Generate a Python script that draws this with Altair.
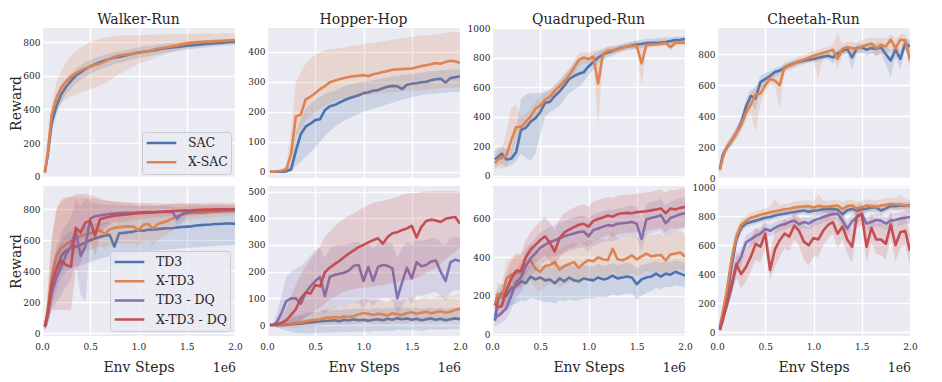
import altair as alt
import pandas as pd

# ---------------- data ----------------
X = [0.03, 0.06, 0.10, 0.15, 0.20, 0.25, 0.30, 0.35, 0.40, 0.45,
     0.50, 0.55, 0.60, 0.65, 0.70, 0.75, 0.80, 0.85, 0.90, 0.95,
     1.00, 1.05, 1.10, 1.15, 1.20, 1.25, 1.30, 1.35, 1.40, 1.45,
     1.50, 1.55, 1.60, 1.65, 1.70, 1.75, 1.80, 1.85, 1.90, 1.95,
     2.00]
X_TICKS = [0.0, 0.5, 1.0, 1.5, 2.0]

TITLES = ["Walker-Run", "Hopper-Hop", "Quadruped-Run", "Cheetah-Run"]
TOP_NAMES = ["SAC", "X-SAC"]
TOP_COLORS = ["#4C72B0", "#DD8452"]
BOT_NAMES = ["TD3", "X-TD3", "TD3 - DQ", "X-TD3 - DQ"]
BOT_COLORS = ["#4C72B0", "#DD8452", "#8172B3", "#C44E52"]

# y domains / ticks per panel
TOP_DOMAINS = [[-6, 883], [-21, 479], [-15, 1000], [0, 970]]
TOP_TICKS = [[0, 200, 400, 600, 800], [0, 100, 200, 300, 400],
             [0, 200, 400, 600, 800, 1000], [0, 200, 400, 600, 800]]
BOT_DOMAINS = [[-17, 950], [-41, 521], [-10, 772], [-26, 1009]]
BOT_TICKS = [[0, 200, 400, 600, 800], [0, 100, 200, 300, 400, 500],
             [0, 200, 400, 600], [0, 200, 400, 600, 800, 1000]]

# ---- Walker-Run (top) ----
WALKER_SAC = [30,130,320,420,490,535,570,600,620,640, 655,668,680,690,700,708,712,718,725,732,
              738,742,745,750,755,760,764,767,770,774, 778,780,783,786,789,790,793,795,797,800, 800]
WALKER_SAC_LO = [22,100,270,370,440,490,525,555,575,595, 612,625,638,648,660,668,675,682,690,698,
                 705,710,715,720,727,733,738,742,746,750, 755,758,762,765,768,771,774,777,779,781, 782]
WALKER_SAC_HI = [40,160,370,470,545,585,615,640,662,680, 695,705,715,725,732,740,745,750,756,762,
                 768,772,776,780,784,788,792,795,798,801, 804,806,808,810,812,814,815,816,817,818, 818]
WALKER_XSAC = [25,150,370,470,530,565,595,615,630,645, 655,665,672,685,700,712,720,725,728,735,
               738,740,745,752,760,765,770,775,780,786, 792,795,798,800,802,803,805,806,808,810, 812]
WALKER_XSAC_LO = [15,110,310,400,440,460,475,490,500,510, 520,530,540,555,570,590,610,625,640,655,
                  670,680,690,700,712,722,732,742,750,758, 765,770,774,778,781,784,787,790,792,794, 796]
WALKER_XSAC_HI = [35,190,440,560,630,680,720,745,765,785, 800,810,818,825,830,835,838,840,840,840,
                  840,842,843,844,845,845,846,846,847,848, 848,849,849,850,850,850,851,851,852,852, 852]

# ---- Hopper-Hop (top) ----
HOPPER_SAC = [0,0,0,0,1,8,70,125,150,160, 172,175,205,218,222,230,238,245,250,255,
              262,265,270,272,278,283,286,285,275,290, 293,295,298,300,305,308,310,297,312,315, 318]
HOPPER_SAC_LO = [0,0,0,0,0,0,20,35,50,65, 80,100,120,135,150,160,170,178,185,192,
                 200,205,210,215,220,225,230,235,240,244, 248,252,255,258,260,261,262,263,265,266, 268]
HOPPER_SAC_HI = [0,0,0,0,3,30,130,180,210,225, 240,250,260,265,270,278,285,290,295,298,
                 300,302,305,308,310,314,318,320,322,324, 326,328,330,332,335,336,338,339,340,341, 342]
HOPPER_XSAC = [0,0,1,3,8,60,185,190,240,250, 262,275,285,298,303,308,312,316,318,320,
               322,318,325,328,332,336,340,341,342,343, 344,348,352,355,358,362,360,366,370,368, 362]
HOPPER_XSAC_LO = [0,0,0,0,0,15,120,140,170,185, 200,210,220,228,235,240,245,248,250,252,
                  255,256,258,260,262,264,265,266,268,269, 270,271,272,273,275,276,278,279,280,281, 282]
HOPPER_XSAC_HI = [0,0,2,8,20,140,300,330,360,375, 390,398,405,408,410,412,415,418,420,422,
                  425,427,430,432,435,437,440,442,445,447, 450,452,455,455,455,458,460,462,465,465, 465]

# ---- Quadruped-Run (top) ----
QUAD_SAC = [110,125,150,110,115,160,310,325,365,390, 430,495,500,540,570,610,655,675,690,700,
            740,770,800,820,835,845,858,868,875,882, 888,892,898,900,900,902,905,912,918,920, 925]
QUAD_SAC_LO = [60,70,80,60,70,100,150,120,100,150, 280,400,430,450,470,520,560,580,600,640,
               680,720,760,785,800,815,830,840,850,855, 860,865,870,875,880,882,885,890,895,898, 900]
QUAD_SAC_HI = [170,190,200,180,190,300,520,550,560,560, 560,570,580,610,640,680,720,760,790,795,
               800,820,840,855,870,875,880,890,900,908, 915,920,925,928,930,932,935,938,940,942, 945]
QUAD_XSAC = [85,110,120,140,240,330,330,365,400,455, 475,515,535,575,605,640,680,730,785,800,
             790,805,625,825,845,850,855,865,875,878, 880,760,885,888,890,893,898,870,900,902, 900]
QUAD_XSAC_LO = [40,60,50,60,120,250,280,330,360,400, 420,470,500,540,570,600,640,680,740,760,
                760,775,330,790,815,825,835,845,855,860, 865,610,865,870,872,875,880,850,880,882, 880]
QUAD_XSAC_HI = [140,170,180,300,460,480,400,420,450,500, 540,560,580,620,650,690,730,780,830,840,
                830,845,850,860,875,880,885,890,900,905, 910,905,910,912,915,918,920,905,922,925, 925]

# ---- Cheetah-Run (top) ----
CHEETAH_SAC = [60,150,195,240,290,355,460,530,515,620, 640,660,685,695,712,730,742,752,758,765,
               770,778,785,790,780,805,820,835,780,840, 845,830,840,835,845,800,760,830,770,870, 850]
CHEETAH_SAC_LO = [45,120,170,210,255,315,410,480,440,580, 600,630,655,670,690,710,720,735,740,745,
                  750,755,765,770,740,780,790,805,700,810, 815,790,800,790,800,740,650,790,700,835, 800]
CHEETAH_SAC_HI = [75,180,220,270,325,395,510,570,580,660, 680,690,710,720,735,750,762,770,776,782,
                  790,798,805,810,810,830,845,860,830,865, 870,860,870,870,880,850,830,870,830,905, 890]
CHEETAH_XSAC = [50,130,200,240,290,340,420,475,540,545, 600,640,630,600,720,725,740,755,765,778,
                790,800,810,818,830,770,835,845,840,835, 850,860,870,840,860,850,895,840,895,890, 760]
CHEETAH_XSAC_LO = [35,100,170,210,250,300,370,420,300,480, 560,600,590,450,690,695,710,725,735,748,
                   760,640,780,790,800,700,800,810,780,800, 810,820,830,780,810,790,850,760,850,840, 700]
CHEETAH_XSAC_HI = [65,160,230,270,330,380,470,530,600,600, 640,680,670,690,750,755,770,785,795,808,
                   820,830,840,848,860,940,870,880,880,875, 890,900,910,900,910,900,930,900,930,930, 850]

# ---- Walker-Run (bottom) ----
WALKER_TD3 = [50,130,300,420,500,535,548,560,570,585, 600,612,622,630,635,560,645,648,652,656,
              665,662,668,668,672,675,678,678,683,686, 688,690,695,698,700,702,705,705,708,708, 706]
WALKER_TD3_LO = [25,60,170,280,360,400,420,430,440,450, 460,470,480,490,495,430,505,510,515,520,
                 525,528,530,532,535,538,540,542,545,548, 550,552,555,557,560,562,565,566,568,570, 570]
WALKER_TD3_HI = [80,200,420,530,600,640,660,670,680,690, 700,705,710,715,720,700,725,728,732,735,
                 740,740,742,743,745,748,750,752,755,758, 760,762,765,768,770,772,775,776,778,780, 780]
WALKER_XTD3 = [45,150,360,500,550,575,595,615,628,638, 645,655,665,640,670,680,685,688,690,688,
               665,700,705,675,705,715,725,740,755,765, 775,776,778,778,780,782,785,786,788,790, 790]
WALKER_XTD3_LO = [20,60,200,350,400,450,500,510,520,530, 540,550,560,545,570,575,580,580,580,580,
                  560,590,595,570,600,620,640,665,690,710, 730,735,740,742,745,748,750,752,755,758, 760]
WALKER_XTD3_HI = [70,300,600,800,870,880,880,880,880,875, 870,865,860,855,850,848,845,842,840,835,
                  820,830,830,820,825,830,832,835,838,840, 840,840,840,840,840,842,842,842,842,842, 842]
WALKER_TD3DQ = [40,120,260,360,430,510,560,660,500,560, 740,755,760,765,770,772,775,776,778,778,
                780,780,782,780,782,783,785,783,740,770, 780,786,788,790,792,792,793,794,795,795, 796]
WALKER_TD3DQ_LO = [20,60,150,200,250,300,350,450,250,200, 600,650,680,700,715,720,725,730,735,740,
                   742,745,748,748,750,752,755,755,700,720, 755,760,762,765,768,770,772,774,775,776, 777]
WALKER_TD3DQ_HI = [60,200,400,550,650,700,750,860,820,870, 850,840,830,830,828,826,825,824,823,822,
                   822,822,822,822,822,822,822,822,810,815, 822,822,822,822,822,822,822,822,822,822, 822]
WALKER_XTD3DQ = [45,130,320,410,470,440,430,680,650,715, 725,630,735,745,752,758,762,765,768,772,
                 774,776,778,780,782,784,786,788,790,791, 792,793,795,797,798,798,799,800,800,800, 800]
WALKER_XTD3DQ_LO = [20,60,150,150,150,150,150,400,450,550, 600,500,620,680,700,710,715,720,725,730,
                    735,738,740,742,745,747,750,752,755,757, 760,762,764,766,768,770,772,773,774,775, 776]
WALKER_XTD3DQ_HI = [70,250,600,800,850,870,880,900,900,900, 890,880,870,860,855,850,848,846,844,842,
                    840,840,840,838,838,836,836,835,835,835, 834,834,834,833,833,833,832,832,832,831, 830]

# ---- Hopper-Hop (bottom) ----
HOPPER_TD3 = [0,0,0,0,1,2,4,5,8,10, 12,14,15,16,18,14,20,17,22,18,
              20,16,20,22,18,24,20,26,22,25, 20,24,18,22,25,20,24,18,22,25, 22]
HOPPER_TD3_LO = [-2,-5,-10,-15,-20,-25,-30,-30,-32,-32, -30,-30,-28,-28,-26,-28,-25,-26,-24,-25,
                 -24,-25,-22,-22,-24,-20,-22,-18,-20,-18, -20,-18,-22,-18,-16,-18,-16,-18,-16,-15, -16]
HOPPER_TD3_HI = [2,5,10,15,20,28,35,40,45,48, 50,52,55,55,58,55,60,58,62,60,
                 62,58,62,64,60,66,62,68,64,66, 62,66,60,64,66,62,66,60,64,66, 64]
HOPPER_XTD3 = [0,0,0,1,3,5,8,10,14,18, 20,22,26,28,30,28,32,30,34,40,
               45,42,38,42,40,36,44,40,38,45, 48,42,46,50,44,48,52,46,50,56, 62]
HOPPER_XTD3_LO = [-1,-3,-5,-8,-10,-10,-10,-8,-6,-5, -4,-2,0,2,3,2,4,3,5,8,
                  10,8,6,8,6,4,10,8,6,10, 12,8,10,14,10,12,15,10,14,18, 22]
HOPPER_XTD3_HI = [1,3,6,10,18,22,28,32,38,45, 50,55,60,65,70,68,75,72,80,90,
                  100,95,88,95,92,85,98,92,88,100, 105,95,100,108,98,105,110,100,108,112, 118]
HOPPER_TD3DQ = [0,0,10,45,90,100,100,80,120,145, 165,180,108,180,188,192,196,205,222,225,
                165,218,165,218,225,222,212,100,160,215, 175,235,220,225,238,242,200,165,235,245, 240]
HOPPER_TD3DQ_LO = [0,0,-10,-10,0,5,10,15,30,40, 50,55,40,60,65,70,72,75,80,85,
                   60,90,70,95,100,100,95,40,70,100, 80,110,110,115,120,125,110,90,120,130, 130]
HOPPER_TD3DQ_HI = [0,5,40,110,180,200,210,220,240,260, 280,290,250,290,295,300,300,305,310,310,
                   290,305,290,305,310,310,305,250,290,310, 300,320,315,320,325,325,310,300,325,330, 330]
HOPPER_XTD3DQ = [0,0,2,8,18,38,60,100,122,118, 150,145,198,215,228,240,255,268,280,292,
                 300,310,318,325,305,330,344,348,356,362, 372,328,368,390,395,392,386,398,402,405, 380]
HOPPER_XTD3DQ_LO = [0,-2,-5,-5,-5,0,5,15,30,40, 55,65,80,95,105,115,125,130,135,138,
                    140,142,145,148,150,155,158,160,165,168, 170,175,185,195,205,215,230,245,260,275, 290]
HOPPER_XTD3DQ_HI = [0,3,10,30,60,110,150,190,220,245, 270,295,330,350,370,385,400,410,420,430,
                    440,450,458,462,465,470,475,480,488,492, 495,495,500,500,502,502,502,502,502,502, 500]

# ---- Quadruped-Run (bottom) ----
QUAD_TD3 = [70,180,215,200,240,250,275,265,300,285, 295,280,285,265,290,275,295,280,275,290,
            285,280,295,285,290,305,290,295,300,295, 260,285,295,300,315,300,315,310,325,315, 305]
QUAD_TD3_LO = [40,120,150,130,150,160,175,170,190,180, 175,165,170,160,175,170,180,175,175,185,
               185,185,195,190,195,205,200,205,210,210, 180,200,215,225,240,235,245,245,255,250, 245]
QUAD_TD3_HI = [110,230,260,260,310,320,340,330,360,350, 360,350,355,340,360,350,365,355,350,360,
               355,350,365,355,360,370,360,365,370,365, 340,360,365,370,380,370,380,375,385,380, 370]
QUAD_XTD3 = [150,210,190,290,310,320,320,360,385,340, 325,355,360,375,335,355,365,375,345,370,
             385,380,400,390,385,445,390,385,395,410, 390,405,420,405,410,412,385,415,420,425, 405]
QUAD_XTD3_LO = [110,150,130,200,220,230,240,260,280,240, 220,250,260,270,240,260,270,280,260,280,
                290,285,300,295,290,330,300,295,305,320, 300,315,330,320,325,328,305,330,335,340, 325]
QUAD_XTD3_HI = [200,270,260,370,400,410,410,450,470,440, 430,450,460,470,440,460,470,480,460,480,
                490,485,500,495,490,540,500,495,505,515, 500,515,530,515,520,525,500,530,535,540, 520]
QUAD_TD3DQ = [80,95,110,135,200,270,295,355,395,420, 450,465,480,488,500,510,518,525,532,535,
              510,542,550,560,568,565,575,578,580,585, 575,495,598,605,612,620,578,605,615,625, 630]
QUAD_TD3DQ_LO = [40,50,60,80,130,190,220,270,310,330, 360,380,395,405,415,425,435,440,448,452,
                 430,460,470,480,485,485,495,500,505,510, 500,430,520,525,532,540,500,525,535,545, 550]
QUAD_TD3DQ_HI = [120,140,170,210,270,340,370,430,470,500, 530,545,560,570,580,590,600,608,615,620,
                 600,625,632,640,648,648,655,660,665,670, 660,600,680,688,695,705,670,690,700,710, 715]
QUAD_XTD3DQ = [160,140,145,230,290,330,330,400,440,465, 490,510,475,430,500,530,545,558,570,575,
               560,590,600,608,618,612,625,630,632,630, 636,638,640,645,650,655,630,655,650,658, 662]
QUAD_XTD3DQ_LO = [110,90,95,150,200,240,250,310,350,370, 390,410,380,340,400,430,445,455,465,470,
                  455,485,495,505,515,510,520,525,528,528, 532,535,538,542,548,552,530,552,548,555, 560]
QUAD_XTD3DQ_HI = [210,200,210,320,380,420,420,490,530,560, 590,610,580,540,600,630,645,658,670,675,
                  665,690,698,705,715,710,720,725,728,728, 732,735,738,742,748,752,735,752,750,758, 762]

# ---- Cheetah-Run (bottom) ----
CHEETAH_TD3 = [30,110,230,450,640,720,750,760,770,780, 790,795,805,812,818,825,830,835,840,832,
               838,842,848,850,852,845,815,842,850,840, 848,852,860,862,840,855,872,870,875,872, 875]
CHEETAH_TD3_LO = [15,80,190,400,600,690,725,735,745,755, 765,770,780,788,794,800,805,810,815,805,
                  812,817,822,825,827,818,780,815,825,810, 820,825,835,837,810,828,848,845,850,847, 850]
CHEETAH_TD3_HI = [45,140,270,500,680,750,775,785,795,805, 815,820,830,836,842,850,855,860,865,858,
                  864,868,874,876,878,872,850,870,876,868, 876,880,886,888,870,882,897,895,900,897, 900]
CHEETAH_XTD3 = [40,140,280,500,660,740,770,790,800,810, 820,828,835,842,848,852,860,865,868,870,
                860,872,868,865,870,874,850,870,875,852, 860,875,870,866,875,880,885,882,880,876, 868]
CHEETAH_XTD3_LO = [20,100,230,440,610,700,735,755,765,775, 785,792,800,805,810,815,820,826,828,830,
                   815,832,828,825,830,834,805,830,835,805, 815,835,830,825,835,840,845,842,840,835, 825]
CHEETAH_XTD3_HI = [60,180,330,560,710,780,805,825,835,845, 855,865,920,878,885,890,900,905,908,910,
                   905,950,910,905,912,915,900,912,918,900, 908,918,912,910,918,925,930,925,950,918, 912]
CHEETAH_TD3DQ = [20,100,180,310,460,520,620,640,665,680, 712,700,720,738,745,760,770,745,760,750,
                 770,782,795,805,815,818,770,715,765,795, 815,750,760,775,770,750,770,775,785,790, 795]
CHEETAH_TD3DQ_LO = [10,70,140,260,400,460,570,590,615,635, 670,660,680,700,708,722,732,705,720,710,
                    730,742,755,765,775,778,725,665,720,752, 772,705,715,730,725,705,725,730,740,745, 750]
CHEETAH_TD3DQ_HI = [30,130,220,360,520,580,670,690,715,725, 755,740,760,776,782,798,808,785,800,790,
                    810,822,835,845,855,858,815,765,810,838, 858,795,805,820,815,795,815,820,830,835, 840]
CHEETAH_XTD3DQ = [15,80,200,320,470,400,450,520,610,590, 680,430,570,635,680,660,735,700,625,600,
                  650,640,700,740,760,680,730,640,590,800, 815,590,720,640,640,610,745,600,690,700, 560]
CHEETAH_XTD3DQ_LO = [5,50,150,250,380,300,350,420,500,480, 580,360,450,520,580,560,640,600,500,460,
                     520,520,600,650,680,580,640,540,480,720, 740,480,620,540,530,500,660,490,580,600, 460]
CHEETAH_XTD3DQ_HI = [30,120,260,400,560,500,560,620,720,700, 780,540,700,740,780,760,830,800,740,720,
                     770,760,800,830,840,780,820,740,700,880, 890,720,820,750,760,720,840,720,800,810, 680]

TOP_SERIES = [
    [(WALKER_SAC, WALKER_SAC_LO, WALKER_SAC_HI), (WALKER_XSAC, WALKER_XSAC_LO, WALKER_XSAC_HI)],
    [(HOPPER_SAC, HOPPER_SAC_LO, HOPPER_SAC_HI), (HOPPER_XSAC, HOPPER_XSAC_LO, HOPPER_XSAC_HI)],
    [(QUAD_SAC, QUAD_SAC_LO, QUAD_SAC_HI), (QUAD_XSAC, QUAD_XSAC_LO, QUAD_XSAC_HI)],
    [(CHEETAH_SAC, CHEETAH_SAC_LO, CHEETAH_SAC_HI), (CHEETAH_XSAC, CHEETAH_XSAC_LO, CHEETAH_XSAC_HI)],
]
BOT_SERIES = [
    [(WALKER_TD3, WALKER_TD3_LO, WALKER_TD3_HI), (WALKER_XTD3, WALKER_XTD3_LO, WALKER_XTD3_HI),
     (WALKER_TD3DQ, WALKER_TD3DQ_LO, WALKER_TD3DQ_HI), (WALKER_XTD3DQ, WALKER_XTD3DQ_LO, WALKER_XTD3DQ_HI)],
    [(HOPPER_TD3, HOPPER_TD3_LO, HOPPER_TD3_HI), (HOPPER_XTD3, HOPPER_XTD3_LO, HOPPER_XTD3_HI),
     (HOPPER_TD3DQ, HOPPER_TD3DQ_LO, HOPPER_TD3DQ_HI), (HOPPER_XTD3DQ, HOPPER_XTD3DQ_LO, HOPPER_XTD3DQ_HI)],
    [(QUAD_TD3, QUAD_TD3_LO, QUAD_TD3_HI), (QUAD_XTD3, QUAD_XTD3_LO, QUAD_XTD3_HI),
     (QUAD_TD3DQ, QUAD_TD3DQ_LO, QUAD_TD3DQ_HI), (QUAD_XTD3DQ, QUAD_XTD3DQ_LO, QUAD_XTD3DQ_HI)],
    [(CHEETAH_TD3, CHEETAH_TD3_LO, CHEETAH_TD3_HI), (CHEETAH_XTD3, CHEETAH_XTD3_LO, CHEETAH_XTD3_HI),
     (CHEETAH_TD3DQ, CHEETAH_TD3DQ_LO, CHEETAH_TD3DQ_HI), (CHEETAH_XTD3DQ, CHEETAH_XTD3DQ_LO, CHEETAH_XTD3DQ_HI)],
]

for grp in TOP_SERIES + BOT_SERIES:
    for trip in grp:
        for arr in trip:
            assert len(arr) == len(X), len(arr)

# ---------------- chart ----------------
FONT = "DejaVu Serif"
TXT = "#262626"
W, H = 193, 150


def make_panel(series, names, colors, domain, ticks, col, bottom, title=None):
    if bottom:
        xaxis = alt.Axis(values=X_TICKS, format=".1f", title="Env Steps", labelFlush=False)
    else:
        xaxis = alt.Axis(values=X_TICKS, labels=False, title=None)
    yaxis = alt.Axis(values=ticks, format="d", title="Reward" if col == 0 else None)
    xenc = alt.X("x:Q", scale=alt.Scale(domain=[0, 2], nice=False, zero=False), axis=xaxis)
    yscale = alt.Scale(domain=domain, nice=False, zero=False)
    if col == 0:
        legend = alt.Legend(
            title=None, orient="bottom-right", offset=5 if bottom else 4,
            fillColor="rgba(234,234,242,0.8)", strokeColor="#cccccc", cornerRadius=3,
            padding=3, labelFont=FONT, labelFontSize=12.5, labelColor=TXT, labelOffset=10,
            symbolType="stroke", symbolSize=880, symbolStrokeWidth=2.5,
            clipHeight=16, rowPadding=3.2,
        )
    else:
        legend = None
    cscale = alt.Scale(domain=names, range=colors)
    layers = []
    for name, color, (mean, lo, hi) in zip(names, colors, series):
        dfb = pd.DataFrame({"x": X, "lo": lo, "hi": hi})
        dfl = pd.DataFrame({"x": X, "y": mean, "series": [name] * len(X)})
        band = alt.Chart(dfb).mark_area(color=color, opacity=0.2, clip=True).encode(
            x=xenc, y=alt.Y("lo:Q", scale=yscale, axis=yaxis), y2="hi:Q")
        line = alt.Chart(dfl).mark_line(strokeWidth=2.6, strokeJoin="round", clip=True).encode(
            x=xenc, y=alt.Y("y:Q", scale=yscale, axis=yaxis),
            color=alt.Color("series:N", scale=cscale, legend=legend))
        layers += [band, line]
    if bottom:
        txt = alt.Chart(pd.DataFrame({"t": ["1e6"]})).mark_text(
            align="right", baseline="alphabetic", font=FONT, fontSize=12.5, color=TXT
        ).encode(text="t:N", x=alt.value(W + 1), y=alt.value(H + 36))
        layers.append(txt)
    if title:
        ttl = alt.Chart(pd.DataFrame({"t": [title]})).mark_text(
            align="center", baseline="alphabetic", font=FONT, fontSize=14, color=TXT
        ).encode(text="t:N", x=alt.value(W / 2), y=alt.value(-4.5))
        layers.append(ttl)
    return alt.layer(*layers).properties(width=W, height=H)


top_panels = [make_panel(TOP_SERIES[i], TOP_NAMES, TOP_COLORS, TOP_DOMAINS[i], TOP_TICKS[i],
                         i, False, TITLES[i]) for i in range(4)]
bot_panels = [make_panel(BOT_SERIES[i], BOT_NAMES, BOT_COLORS, BOT_DOMAINS[i], BOT_TICKS[i],
                         i, True) for i in range(4)]

chart = alt.concat(
    *top_panels, *bot_panels, columns=4, spacing={"row": 8, "column": 32}, bounds="flush"
).resolve_scale(
    color="independent", x="independent", y="independent"
).properties(
    padding={"left": 1, "top": 4, "right": 5, "bottom": 2}
).configure_view(
    fill="#EAEAF2", stroke=None
).configure_axis(
    grid=True, gridColor="white", gridWidth=1.4, domain=False, ticks=False,
    labelFont=FONT, labelFontSize=9, labelColor=TXT,
    titleFont=FONT, titleFontSize=14, titleFontWeight="normal", titleColor=TXT,
).configure_axisX(
    labelPadding=6, titlePadding=9
).configure_axisY(
    labelPadding=2, titlePadding=-0.5
)

chart.save("out.html", embed_options={"renderer": "svg", "actions": False})
